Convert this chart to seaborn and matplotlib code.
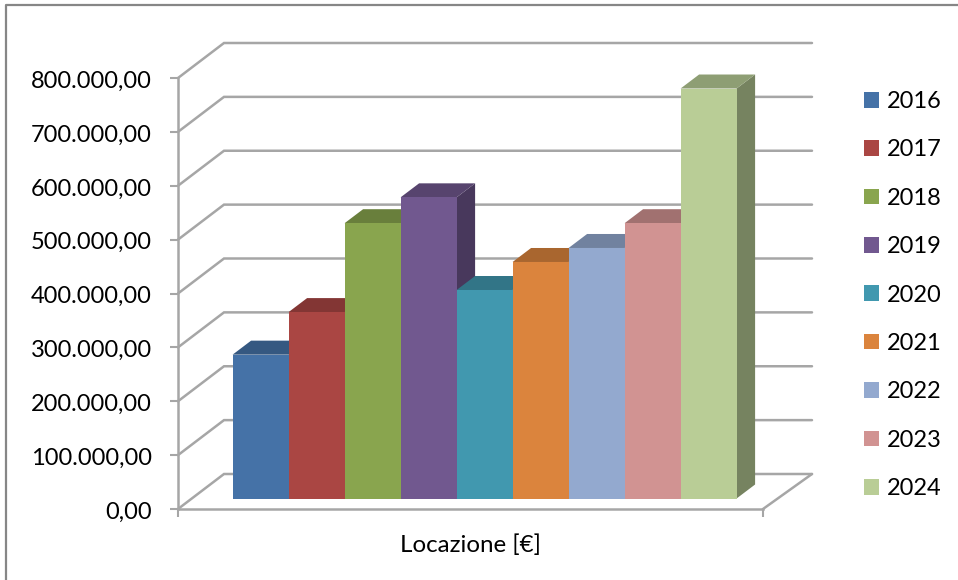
import matplotlib
matplotlib.use("Agg")
import matplotlib.pyplot as plt
from matplotlib.lines import Line2D
from matplotlib.patches import Patch, Polygon
from matplotlib.colors import to_rgb
from matplotlib.transforms import ScaledTranslation
import seaborn as sns

years = ["2016", "2017", "2018", "2019", "2020", "2021", "2022", "2023", "2024"]
values = [267000, 346000, 511000, 559000, 387000, 439000, 465000, 511000, 761000]
colors = ["#4572A7", "#AA4643", "#89A54E", "#71588F", "#4198AF",
          "#DB843D", "#93A9CF", "#D19392", "#B9CD96"]
y_ticks = [0, 100000, 200000, 300000, 400000, 500000, 600000, 700000, 800000]
x_label = "Locazione [€]"

W, H = 958, 580
GRID = "#A6A6A6"
FRAME = "#868686"
TEXT_SIZE = 17.0

sns.set_theme(style="white")
plt.rcParams["font.family"] = ["Lato", "DejaVu Sans"]


def box(x0, x1, y_bottom, y_top):
    """Axes rectangle in figure fractions, from pixel edges measured from the top-left."""
    return [x0 / W, 1 - y_bottom / H, (x1 - x0) / W, (y_bottom - y_top) / H]


def shade(color, factor):
    return tuple(c * factor for c in to_rgb(color))


def italian(v):
    return f"{v:,.2f}".replace(",", "#").replace(".", ",").replace("#", ".")


fig = plt.figure(figsize=(W / 100, H / 100), dpi=100, facecolor="white")

# Chart frame: only the left and top edges fall inside the canvas.
fig.add_artist(Line2D([6 / W, 6 / W, 1], [0, 1 - 5 / H, 1 - 5 / H], color=FRAME, lw=1.6))

# Front plane of the box: carries the value axis and the category axis line.
ax = fig.add_axes(box(178, 763, 509, 78))
ax.set_xlim(0, 1)
ax.set_ylim(0, 800000)
ax.patch.set_alpha(0)
for name, spine in ax.spines.items():
    spine.set_visible(name in ("left", "bottom"))
    spine.set_color(GRID)
    spine.set_linewidth(1.8)
ax.set_yticks(y_ticks, [italian(v) for v in y_ticks])
ax.set_xticks([0, 1], ["", ""])
ax.tick_params(axis="both", which="both", length=5.8, width=1.5, color=GRID,
               left=True, bottom=True)
ax.tick_params(axis="y", pad=13, labelsize=TEXT_SIZE, labelcolor="black")
ax.set_xlabel(x_label, fontsize=17.4, color="black", labelpad=9)

# Nudge the value labels down a little so they sit centred on their ticks.
nudge = ScaledTranslation(0, -1.2 / 100, fig.dpi_scale_trans)
for label in ax.get_yticklabels():
    label.set_transform(label.get_transform() + nudge)

# Wall and floor lines run from each front tick back to the far side of the box.
wall_left = 46 / 585
wall_right = 49 / 585
wall_dy = 35 / 431 * 800000
for v in y_ticks:
    ax.plot([0, wall_left, 1 + wall_right], [v, v + wall_dy, v + wall_dy],
            color=GRID, lw=1.8, clip_on=False, zorder=1, solid_joinstyle="miter")
ax.plot([1, 1 + wall_right], [0, wall_dy], color=GRID, lw=1.8, clip_on=False, zorder=1)

# The columns stand inside the box, so they get their own axes, set in from the front.
bars = fig.add_axes(box(232.6, 736.6, 498.5, 67.5))
bars.patch.set_alpha(0)
sns.barplot(x=years, y=values, hue=years, palette=colors, saturation=1, width=1,
            dodge=False, legend=False, linewidth=0, ax=bars)
bars.set_xlim(-0.5, 8.5)
bars.set_ylim(0, 800000)
bars.axis("off")

# Extrude each column with a top and a side face; later columns overlap earlier ones.
depth_x = 18.5 / 56
depth_y = 14 / 431 * 800000
for i, (patch, color) in enumerate(zip(bars.patches, colors)):
    x0 = patch.get_x()
    x1 = x0 + patch.get_width()
    top = patch.get_height()
    top_face = [(x0, top), (x0 + depth_x, top + depth_y), (x1 + depth_x, top + depth_y), (x1, top)]
    side_face = [(x1, 0), (x1 + depth_x, depth_y), (x1 + depth_x, top + depth_y), (x1, top)]
    bars.add_patch(Polygon(side_face, closed=True, fc=shade(color, 0.64), ec="none",
                           clip_on=False, zorder=10 + 3 * i))
    bars.add_patch(Polygon(top_face, closed=True, fc=shade(color, 0.77), ec="none",
                           clip_on=False, zorder=11 + 3 * i))
    patch.set_zorder(12 + 3 * i)
    patch.set_clip_on(False)

handles = [Patch(facecolor=c, edgecolor="none", label=y) for y, c in zip(years, colors)]
fig.legend(handles=handles, loc="upper left", bbox_to_anchor=(864 / W, 1 - 91 / H),
           frameon=False, fontsize=TEXT_SIZE, handlelength=0.64, handleheight=0.64,
           handletextpad=0.33, labelspacing=1.16, borderpad=0, borderaxespad=0,
           labelcolor="black")

fig.savefig("out.png", dpi=100)
